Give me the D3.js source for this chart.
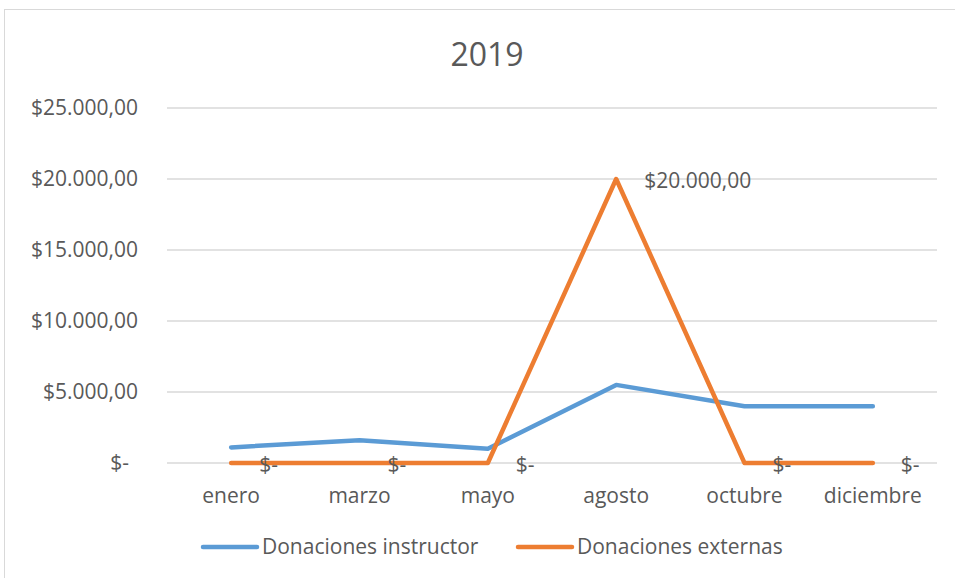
<!DOCTYPE html>
<html>
<head>
<meta charset="utf-8">
<script src="https://cdn.jsdelivr.net/npm/d3@7"></script>
<style>
  body { margin: 0; background: #fff; }
  text { font-family: "Open Sans", "Noto Sans", sans-serif; fill: #595959; }
</style>
</head>
<body>
<div id="chart"></div>
<script>
const months = ["enero", "marzo", "mayo", "agosto", "octubre", "diciembre"];
const instructor = [1100, 1600, 1000, 5500, 4000, 4000];
const externas = [0, 0, 0, 20000, 0, 0];
const yTicks = [0, 5000, 10000, 15000, 20000, 25000];
const seriesNames = ["Donaciones instructor", "Donaciones externas"];
const colors = ["#5B9BD5", "#ED7D31"];

const width = 955, height = 578;
const margin = { top: 108, right: 18, bottom: 115, left: 167 };

const svg = d3.select("#chart").append("svg")
    .attr("width", width)
    .attr("height", height);

// chart frame
svg.append("rect")
    .attr("x", 4.5).attr("y", 9.5)
    .attr("width", width + 10).attr("height", height + 10)
    .attr("fill", "none")
    .attr("stroke", "#d9d9d9");

const x = d3.scaleBand()
    .domain(months)
    .range([margin.left, width - margin.right]);

const y = d3.scaleLinear()
    .domain([0, 25000])
    .range([height - margin.bottom, margin.top]);

function money(v) {
    if (v === 0) return "$-";
    const s = d3.format(",.2f")(v);
    return "$" + s.replace(/,/g, "#").replace(".", ",").replace(/#/g, ".");
}

svg.append("text")
    .attr("x", 487).attr("y", 66)
    .attr("text-anchor", "middle")
    .style("font-size", "32px")
    .text("2019");

// grid
svg.append("g")
    .selectAll("line")
    .data(yTicks)
    .enter().append("line")
    .attr("x1", margin.left).attr("x2", width - margin.right)
    .attr("y1", d => y(d)).attr("y2", d => y(d))
    .attr("stroke", "#d9d9d9")
    .attr("stroke-width", 1.3);

// y axis labels
svg.append("g")
    .selectAll("text")
    .data(yTicks)
    .enter().append("text")
    .attr("x", d => d === 0 ? 129 : 138)
    .attr("y", d => y(d))
    .attr("dy", "0.35em")
    .attr("text-anchor", "end")
    .style("font-size", "21px")
    .text(d => money(d));

// x axis labels
svg.append("g")
    .selectAll("text")
    .data(months)
    .enter().append("text")
    .attr("x", d => x(d) + x.bandwidth() / 2)
    .attr("y", 503)
    .attr("text-anchor", "middle")
    .style("font-size", "21px")
    .text(d => d);

const line = d3.line()
    .x((d, i) => x(months[i]) + x.bandwidth() / 2)
    .y(d => y(d));

[instructor, externas].forEach((vals, k) => {
    svg.append("path")
        .datum(vals)
        .attr("fill", "none")
        .attr("stroke", colors[k])
        .attr("stroke-width", 4.5)
        .attr("stroke-linejoin", "round")
        .attr("stroke-linecap", "round")
        .attr("d", line);
});

// data labels for the orange series
svg.append("g")
    .selectAll("text")
    .data(externas)
    .enter().append("text")
    .attr("x", (d, i) => x(months[i]) + x.bandwidth() / 2 + 28)
    .attr("y", d => y(d) + 2)
    .attr("dy", "0.35em")
    .style("font-size", "21px")
    .text(d => money(d));

// legend
const legend = svg.append("g");
const legendX = [203, 518];
seriesNames.forEach((name, k) => {
    legend.append("line")
        .attr("x1", legendX[k]).attr("x2", legendX[k] + 54)
        .attr("y1", 547).attr("y2", 547)
        .attr("stroke", colors[k])
        .attr("stroke-width", 4.5)
        .attr("stroke-linecap", "round");
    legend.append("text")
        .attr("x", legendX[k] + 59)
        .attr("y", 547)
        .attr("dy", "0.35em")
        .style("font-size", "21px")
        .text(name);
});
</script>
</body>
</html>
